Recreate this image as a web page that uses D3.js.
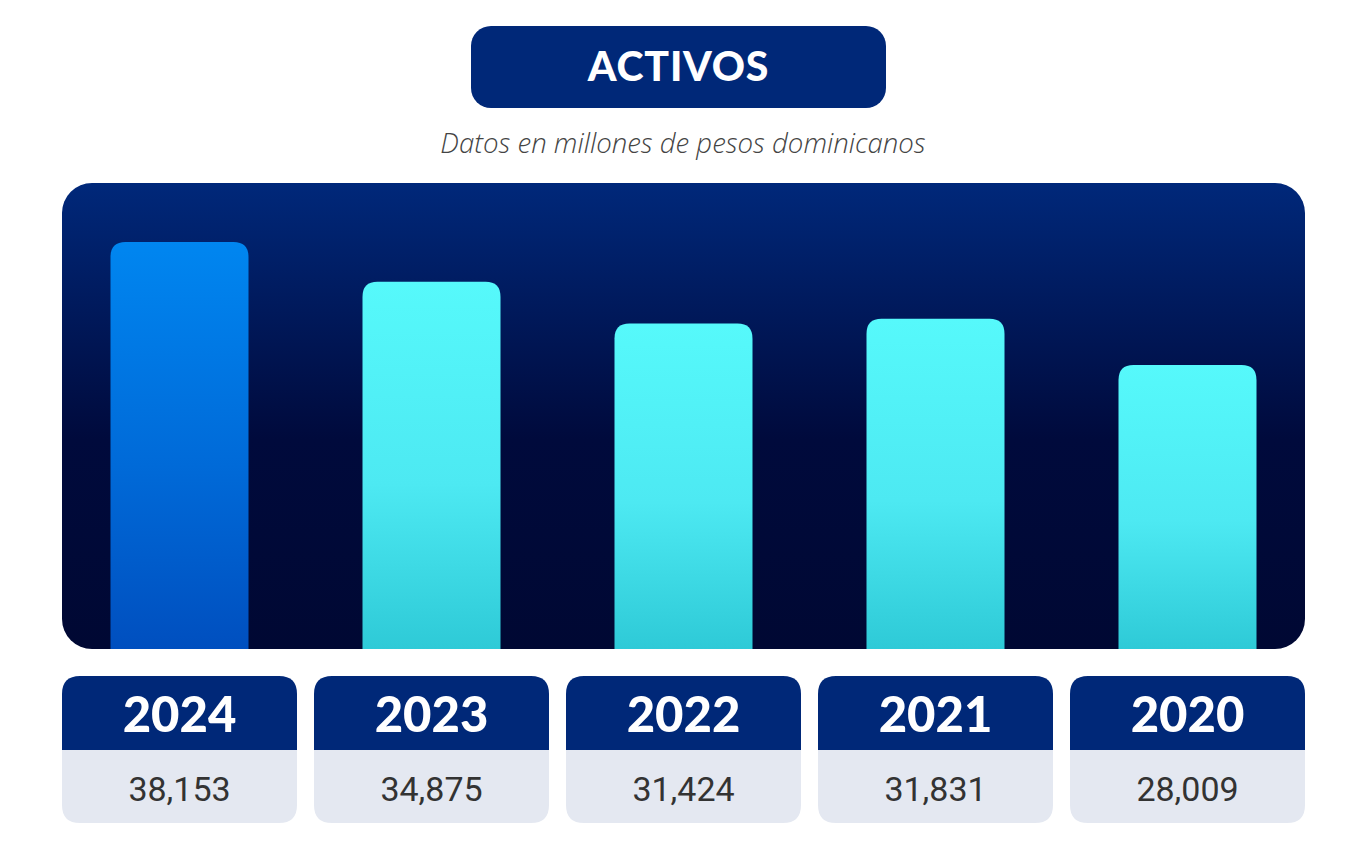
<!DOCTYPE html>
<html><head><meta charset="utf-8">
<script src="https://cdn.jsdelivr.net/npm/d3@7"></script>
<style>html,body{margin:0;padding:0;background:#fff;}svg{display:block;}</style>
</head><body>
<svg id="chart" width="1367" height="850"></svg>
<script>
const title = "ACTIVOS";
const subtitle = "Datos en millones de pesos dominicanos";
const years = ["2024", "2023", "2022", "2021", "2020"];
const values = [38153, 34875, 31424, 31831, 28009];
const valueLabels = ["38,153", "34,875", "31,424", "31,831", "28,009"];
const highlightYear = "2024";

const svg = d3.select("#chart");
const defs = svg.append("defs");

function grad(id, stops) {
  const g = defs.append("linearGradient").attr("id", id).attr("x1", 0).attr("y1", 0).attr("x2", 0).attr("y2", 1);
  stops.forEach(s => g.append("stop").attr("offset", s[0]).attr("stop-color", s[1]));
}
grad("panelGrad", [[0, "#00287a"], [0.55, "#000a3c"], [1, "#000833"]]);
grad("hiGrad", [[0, "#0086f0"], [0.55, "#006ad8"], [1, "#004fbf"]]);
grad("barGrad", [[0, "#56f9fb"], [0.55, "#4de9f2"], [1, "#2ecad7"]]);

// Title
svg.append("rect").attr("x", 471).attr("y", 26).attr("width", 415).attr("height", 82).attr("rx", 20).attr("fill", "#002878");
svg.append("text").attr("x", 678.5).attr("y", 81).attr("text-anchor", "middle")
  .attr("font-family", "Lato, 'Open Sans', sans-serif").attr("font-weight", 900).attr("font-size", 41)
  .attr("letter-spacing", 0.8)
  .attr("fill", "#fff").text(title);
svg.append("text").attr("x", 683).attr("y", 153).attr("text-anchor", "middle")
  .attr("font-family", "'Open Sans', Lato, sans-serif").attr("font-style", "italic").attr("font-weight", 300).attr("font-size", 27.6)
  .attr("fill", "#444").text(subtitle);

// Panel
const panel = {x0: 62, x1: 1305, y0: 183, y1: 649};
svg.append("rect").attr("x", panel.x0).attr("y", panel.y0).attr("width", panel.x1 - panel.x0).attr("height", panel.y1 - panel.y0)
  .attr("rx", 30).attr("fill", "url(#panelGrad)");

const x = d3.scaleBand().domain(years).range([panel.x0, panel.x1]).paddingInner(17 / 252).paddingOuter(0);
const y = d3.scaleLinear().domain([4600, 38153]).range([panel.y1, 242]);
const barW = 138;
const r = 15;

function topRounded(x0, y0, w, h, rr) {
  return `M${x0},${y0 + h}V${y0 + rr}Q${x0},${y0} ${x0 + rr},${y0}H${x0 + w - rr}Q${x0 + w},${y0} ${x0 + w},${y0 + rr}V${y0 + h}Z`;
}

const data = years.map((yr, i) => ({year: yr, value: values[i], label: valueLabels[i]}));

svg.append("g").selectAll("path").data(data).join("path")
  .attr("d", d => {
    const cx = x(d.year) + x.bandwidth() / 2;
    const top = y(d.value);
    return topRounded(cx - barW / 2, top, barW, panel.y1 - top, r);
  })
  .attr("fill", d => d.year === highlightYear ? "url(#hiGrad)" : "url(#barGrad)");

// Label boxes
const boxTop = 676, boxMid = 750, boxBot = 823, br = 18;
function roundedTop(x0, y0, w, h, rr) {
  return `M${x0},${y0 + h}V${y0 + rr}Q${x0},${y0} ${x0 + rr},${y0}H${x0 + w - rr}Q${x0 + w},${y0} ${x0 + w},${y0 + rr}V${y0 + h}Z`;
}
function roundedBottom(x0, y0, w, h, rr) {
  return `M${x0},${y0}H${x0 + w}V${y0 + h - rr}Q${x0 + w},${y0 + h} ${x0 + w - rr},${y0 + h}H${x0 + rr}Q${x0},${y0 + h} ${x0},${y0 + h - rr}Z`;
}
const boxes = svg.append("g").selectAll("g").data(data).join("g");
boxes.append("path").attr("d", d => roundedBottom(x(d.year), boxMid, x.bandwidth(), boxBot - boxMid, br)).attr("fill", "#e4e8f1");
boxes.append("path").attr("d", d => roundedTop(x(d.year), boxTop, x.bandwidth(), boxMid - boxTop, br)).attr("fill", "#002878");
boxes.append("text").attr("x", d => x(d.year) + x.bandwidth() / 2).attr("y", 732).attr("text-anchor", "middle")
  .attr("font-family", "Lato, 'Open Sans', sans-serif").attr("font-weight", 900).attr("font-size", 49)
  .attr("fill", "#fff").text(d => d.year);
boxes.append("text").attr("x", d => x(d.year) + x.bandwidth() / 2).attr("y", 801).attr("text-anchor", "middle")
  .attr("font-family", "Roboto, 'Open Sans', sans-serif").attr("font-size", 34)
  .attr("fill", "#333").text(d => d.label);
</script>
</body></html>
